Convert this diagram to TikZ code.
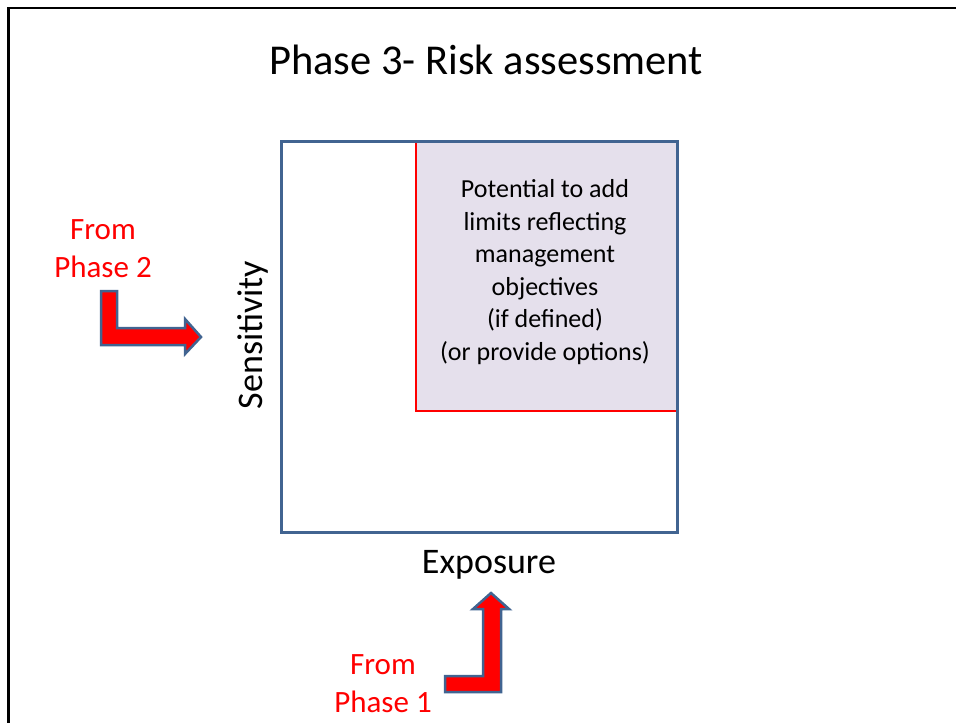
\documentclass[tikz,border=0pt]{standalone}
\usepackage{fontspec}
\setmainfont{Carlito}
\definecolor{boxblue}{RGB}{65,100,145}
\definecolor{lav}{RGB}{229,224,236}
\definecolor{arrred}{RGB}{255,0,0}
\begin{document}
\begin{tikzpicture}[x=1pt,y=-1pt,
  redtxt/.style={text=arrred,font=\fontsize{31}{38}\selectfont,align=center,inner sep=0pt},
  bentarrow/.style={fill=arrred,draw=boxblue,line width=2.5pt,line join=miter}]
\useasboundingbox (0,0) rectangle (956,723);
\fill[white] (0,0) rectangle (956,723);
% frame
\draw[black,line width=2.8pt] (8.5,740) -- (8.5,8) -- (970,8);
% title
\node[font=\fontsize{42.5}{50}\selectfont,inner sep=0pt] (title) at (486,60) {Phase 3- Risk assessment};
% main square
\coordinate (sqnw) at (281,141);
\coordinate (sqse) at (677,532);
% shaded zone
\fill[lav] (416,141) rectangle (677,411);
\draw[arrred,line width=2.6pt] (416,141) -- (416,411) -- (677,411);
\draw[boxblue,line width=3pt] (sqnw) rectangle (sqse);
\node[font=\fontsize{26}{32.5}\selectfont,align=center,inner sep=0pt] (txt) at (545,272) {Potential to add\\limits reflecting\\management\\objectives\\(if defined)\\(or provide options)};
% axes labels
\node[font=\fontsize{36}{44}\selectfont,rotate=90,inner sep=0pt] (sens) at (253,335) {Sensitivity};
\node[font=\fontsize{36}{44}\selectfont,inner sep=0pt] (expo) at (489,565) {Exposure};
% from labels
\node[redtxt] (p2) at (103,249) {From\\Phase 2};
\node[redtxt] (p1) at (383,684) {From\\Phase 1};
% arrows
\draw[bentarrow] (101,291) -- (117,291) -- (117,328) -- (185,328) -- (185,319) -- (201,337) -- (185,354) -- (185,345) -- (101,345) -- cycle;
\draw[bentarrow] (445,676) -- (483,676) -- (483,609) -- (473,609) -- (491,593) -- (509,609) -- (501,609) -- (501,692) -- (445,692) -- cycle;
\end{tikzpicture}
\end{document}
